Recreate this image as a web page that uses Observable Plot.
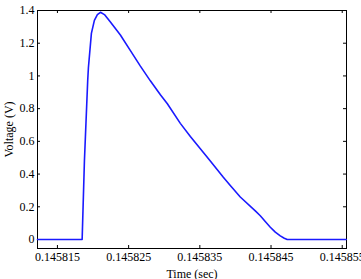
<!DOCTYPE html>
<html><head><meta charset="utf-8">
<script src="https://cdn.jsdelivr.net/npm/d3@7"></script>
<script src="https://cdn.jsdelivr.net/npm/@observablehq/plot@0.6"></script>
<style>html,body{margin:0;padding:0;background:#fff;overflow:hidden}
svg text{font-family:'Liberation Serif','Times New Roman',serif !important;}</style>
</head><body><div id="chart"></div>
<script>
const time = [0.1458122, 0.14581847, 0.14581879, 0.14581925, 0.14581935, 0.14581977, 0.14582019, 0.14582061, 0.14582104, 0.14582160, 0.14582244, 0.14582384, 0.14582525, 0.14582665, 0.14582805, 0.14582946, 0.14583044, 0.14583226, 0.14583367, 0.14583507, 0.14583647, 0.14583830, 0.14583928, 0.14584068, 0.14584279, 0.14584349, 0.14584419, 0.14584490, 0.14584560, 0.14584630, 0.14584686, 0.14584728, 0.14585556];
const voltage = [0, 0, 0.48, 0.97, 1.05, 1.26, 1.34, 1.375, 1.389, 1.375, 1.33, 1.25, 1.155, 1.06, 0.97, 0.885, 0.83, 0.71, 0.63, 0.555, 0.48, 0.38, 0.33, 0.26, 0.175, 0.145, 0.11, 0.075, 0.045, 0.022, 0.008, 0, 0];
const xTicks = [0.145815, 0.145825, 0.145835, 0.145845, 0.145855];
const yTicks = [0, 0.2, 0.4, 0.6, 0.8, 1, 1.2, 1.4];
const xLabel = "Time (sec)";
const yLabel = "Voltage (V)";

const data = time.map((t, i) => ({t, v: voltage[i]}));
const W = 361, H = 279, mL = 37, mR = 15, mT = 10, mB = 31;
const iw = W - mL - mR, ih = H - mT - mB, tl = 3;

const chart = Plot.plot({
  width: W, height: H,
  marginLeft: mL, marginRight: mR, marginTop: mT, marginBottom: mB,
  style: {fontFamily: "'Liberation Serif', 'Times New Roman', serif", fontSize: "12px", background: "#fff", color: "#000", overflow: "visible"},
  x: {domain: [0.1458122, 0.1458556]},
  y: {domain: [-0.055, 1.4]},
  marks: [
    Plot.frame({stroke: "#000", strokeWidth: 1}),
    Plot.tickX(xTicks, {x: d => d, insetTop: ih - tl, stroke: "#000"}),
    Plot.tickX(xTicks, {x: d => d, insetBottom: ih - tl, stroke: "#000"}),
    Plot.tickY(yTicks, {y: d => d, insetRight: iw - tl, stroke: "#000"}),
    Plot.tickY(yTicks, {y: d => d, insetLeft: iw - tl, stroke: "#000"}),
    Plot.axisX(xTicks, {tickSize: 0, tickPadding: 4, tickFormat: d => String(d), label: xLabel, labelArrow: "none", labelAnchor: "center", labelOffset: 29, fill: "#000"}),
    Plot.axisY(yTicks, {tickSize: 0, tickPadding: 3, tickFormat: d => String(d), label: yLabel, labelArrow: "none", labelAnchor: "center", labelOffset: 33, fill: "#000"}),
    Plot.line(data, {x: "t", y: "v", stroke: "#1a1aff", strokeWidth: 1.6})
  ]
});
document.getElementById("chart").appendChild(chart);
</script>
</body></html>
